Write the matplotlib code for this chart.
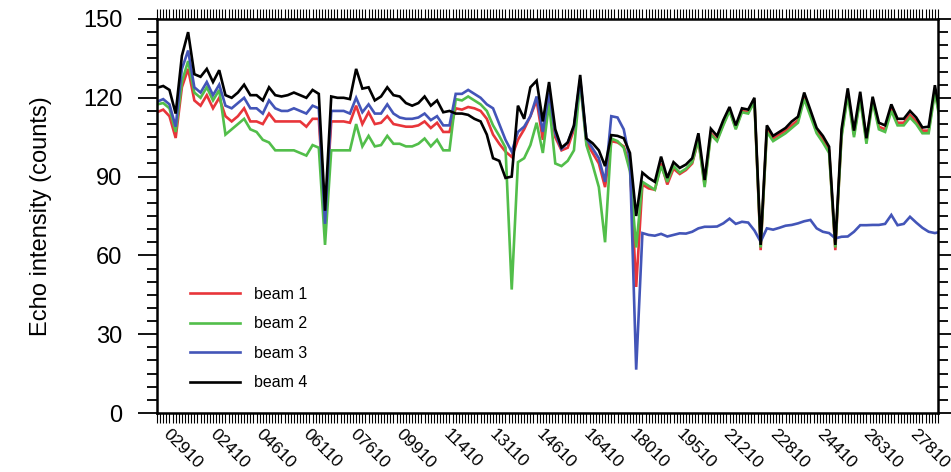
import numpy as np
import matplotlib
matplotlib.use("Agg")
import matplotlib.pyplot as plt
from matplotlib.ticker import MultipleLocator, FixedLocator

plt.rcParams['font.family'] = ['Liberation Sans', 'DejaVu Sans']

# sample index (every second record of 252)
idx = np.arange(0, 253, 2)

beam1 = [114.5, 115.5, 113, 104.7, 124, 131, 119, 117, 121, 116, 120, 113,
         111, 113, 116, 111, 111, 110, 114, 111, 111, 111, 111, 111, 109, 112,
         112, 73, 111, 111, 111, 110.5, 117, 110, 114.5, 110, 110.5, 113, 110, 109.5,
         109, 109, 109.5, 111, 108.5, 110.5, 107, 107, 116, 115.5, 116.5, 116,
         115, 112, 106, 102.5, 99.5, 97.5, 104, 108, 113, 119, 104, 121.5,
         105, 100, 101, 108, 126.5, 103, 99, 95, 86, 103.5, 103, 101.5,
         94, 48, 87, 85.5, 85, 95, 87, 93, 91, 92.5, 95, 104,
         87, 106.5, 104, 110, 115.5, 108.5, 115, 114.5, 119, 62, 108, 104.5,
         106, 107.5, 109.5, 111.5, 120.5, 114, 107.5, 104, 100, 62, 106, 122,
         106, 120.5, 103.5, 119.5, 109, 108, 116, 110.5, 110.5, 113.5, 111, 107.5,
         107.5, 123, 110]

beam2 = [117.5, 118, 116, 107, 126, 134, 122, 120, 124, 119, 123, 106,
         108, 110, 112, 108, 107, 104, 103, 100, 100, 100, 100, 99, 98, 102,
         101, 64, 100, 100, 100, 100, 110, 101.5, 105.5, 101.5, 102, 105.5, 102.5, 102.5,
         101.5, 101.5, 102.5, 104.5, 101.5, 104, 100, 100, 119.5, 119, 120.5, 119,
         117.5, 115, 109.5, 105.5, 101, 47, 95.5, 97, 102, 110.5, 99, 118,
         95, 94, 96, 100, 126, 102, 94.5, 86, 65, 104.5, 103.5, 101,
         92, 63, 88, 86.5, 85, 94, 88, 94, 91.5, 93, 95.5, 104,
         86, 106, 103.5, 109.5, 115, 108, 114.5, 114, 118.5, 63, 107, 103.5,
         105, 106.5, 108.5, 110.5, 119.5, 113, 106.5, 103, 99, 63, 105, 121,
         105, 119.5, 102.5, 118.5, 108, 107, 115, 109.5, 109.5, 112.5, 110, 106.5,
         106.5, 122, 109]

beam3 = [118.5, 119.5, 117.5, 109, 131, 138, 124, 122, 126, 121, 125, 117,
         116, 118, 120, 116, 116, 114, 119, 116, 115, 115, 116, 115, 114, 117,
         116, 72, 115, 115, 115, 114, 120, 114.5, 117.5, 114, 114, 117.5, 114, 112.5,
         112, 112, 112.5, 114, 111.5, 113, 109.5, 109.5, 121.5, 121.5, 123, 121.5,
         120, 117.5, 116, 110, 104, 99.5, 107, 109, 113, 120.5, 107, 122,
         106.5, 100.5, 103, 109, 127, 104.5, 100.7, 97, 88, 113, 112.5, 108,
         96, 16.5, 68.5, 67.8, 67.5, 68.2, 67.2, 67.8, 68.4, 68.3, 69, 70.3,
         70.9, 70.9, 71, 72.2, 74, 72, 72.8, 72.5, 69.5, 65.2, 70.3, 69.8,
         70.5, 71.3, 71.6, 72.2, 73, 73.5, 70.3, 69, 68.5, 66.5, 67.1, 67.2,
         69, 71.5, 71.5, 71.6, 71.6, 72, 75.4, 71.5, 72, 74.7, 72.5, 70.5,
         69, 68.5, 69]

beam4 = [123.8, 124.5, 123, 114, 136, 145, 129, 128, 131, 126, 130.5, 121,
         120, 122, 125, 121, 121, 119, 124, 121, 120.5, 121, 122, 121, 120, 123,
         121.5, 77, 120.5, 120, 120, 119.5, 131, 123.5, 124, 119, 120.5, 124, 121, 120.5,
         118, 117, 118, 120.5, 117, 119, 114.5, 115, 114, 114, 113.5, 112,
         111, 106, 97, 96, 89.5, 90, 117, 112, 124, 126.5, 111, 126,
         108, 101, 103, 109.5, 128.7, 104.5, 102.7, 100, 94, 105.8, 105.5, 104.6,
         99, 75, 91.5, 89.5, 88, 97.6, 89.5, 95.5, 93.3, 94.6, 97, 106.5,
         88.7, 108.2, 105.5, 111.5, 116.5, 109.5, 116, 115.5, 120, 64, 109.5, 105.5,
         107, 108.5, 111, 112.8, 122, 115.3, 108.5, 105.5, 101.4, 64, 108, 123.6,
         107.5, 122.3, 104.6, 120.4, 110.5, 109.5, 117.5, 112, 112, 115, 112.5, 108.7,
         109, 124.8, 111]

tick_pos = [1, 16, 31, 46, 61, 76, 91, 106, 121, 136, 151, 166, 181, 196, 211, 226, 241]
tick_lab = ['02910', '02410', '04610', '06110', '07610', '09910', '11410', '13110', '14610',
            '16410', '18010', '19510', '21210', '22810', '24410', '26310', '27810']

colors = ['#e8353a', '#52be4a', '#4355b8', '#000000']
names = ['beam 1', 'beam 2', 'beam 3', 'beam 4']

fig = plt.figure(figsize=(9.51, 4.72), dpi=100)
ax = fig.add_axes([157 / 951, 1 - 413 / 472, 781 / 951, 394 / 472])

for data, c, n in zip([beam1, beam2, beam3, beam4], colors, names):
    ax.plot(idx, data, color=c, lw=1.9, label=n, solid_joinstyle='miter')

ax.set_xlim(0, 251)
ax.set_ylim(0, 150)

for s in ax.spines.values():
    s.set_linewidth(1.8)

ax.yaxis.set_major_locator(MultipleLocator(30))
ax.yaxis.set_minor_locator(MultipleLocator(5))
ax.tick_params(axis='y', which='both', direction='out', left=True, right=True,
               labelsize=17, width=1.3, pad=11)
ax.tick_params(axis='y', which='major', length=14)
ax.tick_params(axis='y', which='minor', length=7)

ax.xaxis.set_major_locator(FixedLocator(tick_pos))
ax.xaxis.set_minor_locator(MultipleLocator(1))
ax.tick_params(axis='x', which='both', direction='out', bottom=True, top=True,
               length=7, width=0.8)
ax.set_xticklabels(tick_lab, rotation=-45, ha='left', va='top', fontsize=12.5)
ax.tick_params(axis='x', which='major', pad=3)

ax.set_ylabel('Echo intensity (counts)', fontsize=17, labelpad=22)

ax.legend(loc='upper left', bbox_to_anchor=(190 / 951, 1 - 287 / 472),
          bbox_transform=fig.transFigure, frameon=False, fontsize=11.5,
          handlelength=3.1, handletextpad=0.9, labelspacing=0.9,
          borderpad=0, borderaxespad=0)

fig.savefig('out.png', dpi=100)
